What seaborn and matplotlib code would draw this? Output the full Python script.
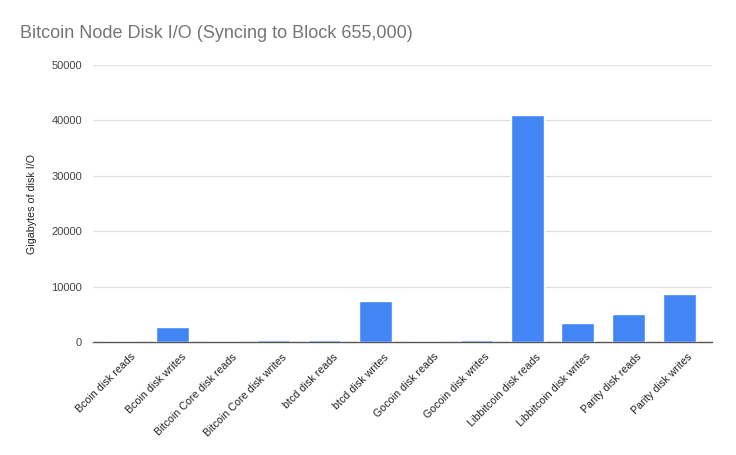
import pandas as pd
import seaborn as sns
import matplotlib.pyplot as plt
from matplotlib.transforms import ScaledTranslation

categories = ['Bcoin disk reads', 'Bcoin disk writes', 'Bitcoin Core disk reads',
              'Bitcoin Core disk writes', 'btcd disk reads', 'btcd disk writes',
              'Gocoin disk reads', 'Gocoin disk writes', 'Libbitcoin disk reads',
              'Libbitcoin disk writes', 'Parity disk reads', 'Parity disk writes']
gigabytes = [20, 2700, 60, 300, 300, 7400, 20, 300, 41000, 3500, 5100, 8700]
y_ticks = [0, 10000, 20000, 30000, 40000, 50000]

df = pd.DataFrame({'item': categories, 'gb': gigabytes})

sns.set_theme(style='white')
plt.rcParams['font.family'] = ['Liberation Sans', 'DejaVu Sans']

fig = plt.figure(figsize=(7.36, 4.55), dpi=100)
ax = fig.add_axes([93 / 736, 1 - 342 / 455, (712 - 93) / 736, (342 - 65) / 455])

sns.barplot(data=df, x='item', y='gb', color='#4285f4', saturation=1, width=0.65, ax=ax, zorder=3)

ax.set_ylim(0, 50000)
ax.set_yticks(y_ticks)
ax.set_yticklabels([str(t) for t in y_ticks], fontsize=8, color='#444444')
ax.set_xlim(-0.573, len(categories) - 0.35)
ax.grid(axis='y', color='#e0e0e0', linewidth=0.9, zorder=0)
for s in ['top', 'right', 'left']:
    ax.spines[s].set_visible(False)
ax.spines['bottom'].set_color('#555555')
ax.spines['bottom'].set_linewidth(1)
ax.tick_params(axis='x', length=0, pad=7)
ax.tick_params(axis='y', length=0, pad=8)
offset = ScaledTranslation(8 / 100, 0, fig.dpi_scale_trans)
for lbl in ax.get_xticklabels():
    lbl.set_rotation(45)
    lbl.set_ha('right')
    lbl.set_rotation_mode('anchor')
    lbl.set_fontsize(7.7)
    lbl.set_color('#222222')
    lbl.set_transform(lbl.get_transform() + offset)
ax.set_xlabel('')
ax.set_ylabel('Gigabytes of disk I/O', fontsize=7.7, color='#222222', labelpad=10)

fig.text(20 / 736, 1 - 33 / 455, 'Bitcoin Node Disk I/O (Syncing to Block 655,000)',
         fontsize=13, color='#757575', va='center', ha='left')

fig.savefig('out.png', dpi=100)
